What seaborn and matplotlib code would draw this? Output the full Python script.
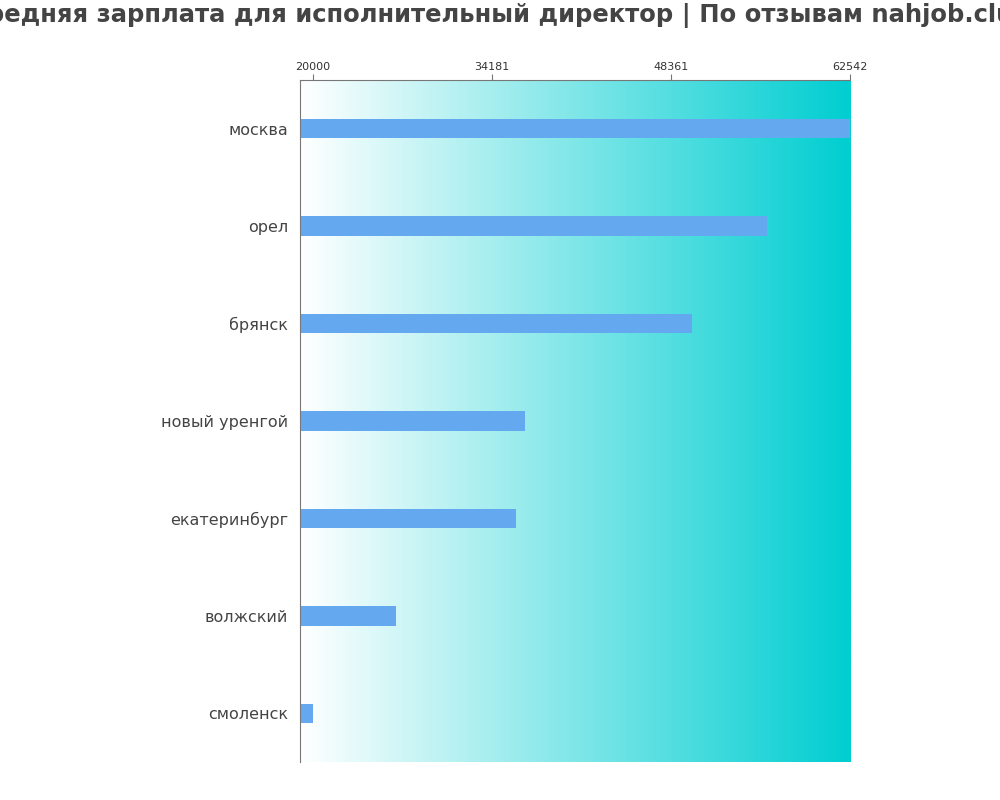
import numpy as np
import pandas as pd
import matplotlib
matplotlib.use("Agg")
import matplotlib.pyplot as plt
from matplotlib.colors import LinearSegmentedColormap
import seaborn as sns

cities = ["москва", "орел", "брянск", "новый уренгой", "екатеринбург", "волжский", "смоленск"]
salaries = [62542, 56000, 50000, 36850, 36100, 26600, 20000]
tick_values = [20000, 34181, 48361, 62542]
tick_labels = ["20000", "34181", "48361", "62542"]
title = "Средняя зарплата для исполнительный директор | По отзывам nahjob.club"

sns.set_theme(style="white")
plt.rcParams["font.family"] = ["DejaVu Sans"]

df = pd.DataFrame({"city": cities, "salary": salaries})

fig = plt.figure(figsize=(10, 8), dpi=100)
ax = fig.add_axes([0.300, 0.0475, 0.550, 0.8525])

x_lo, x_hi = 19000, max(salaries)
cmap = LinearSegmentedColormap.from_list("grad", ["#ffffff", "#00ced1"])
grad = np.linspace(0, 1, 256).reshape(1, -1)
ax.imshow(grad, aspect="auto", cmap=cmap, extent=[x_lo, x_hi, len(cities) - 0.5, -0.5], zorder=0)

sns.barplot(data=df, x="salary", y="city", orient="h", color="#64a8f0", width=0.2,
            saturation=1, linewidth=0, edgecolor="none", ax=ax, zorder=2)

ax.set_xlim(x_lo, x_hi)
ax.set_ylim(len(cities) - 0.5, -0.5)
ax.xaxis.tick_top()
ax.set_xticks(tick_values)
ax.set_xticklabels(tick_labels, fontsize=8, color="#333333")
ax.tick_params(axis="x", length=4, width=0.8, color="#777777", pad=2, top=True, bottom=False)
ax.tick_params(axis="y", length=0, labelsize=11.5, labelcolor="#444444", pad=8.5)
ax.set_xlabel("")
ax.set_ylabel("")
for s in ["right", "bottom"]:
    ax.spines[s].set_visible(False)
for s in ["top", "left"]:
    ax.spines[s].set_color("#777777")
    ax.spines[s].set_linewidth(0.8)

fig.text(0.5, 0.981, title, ha="center", va="center", fontsize=17.5, fontweight="bold", color="#444444")

fig.savefig("out.png", dpi=100)
